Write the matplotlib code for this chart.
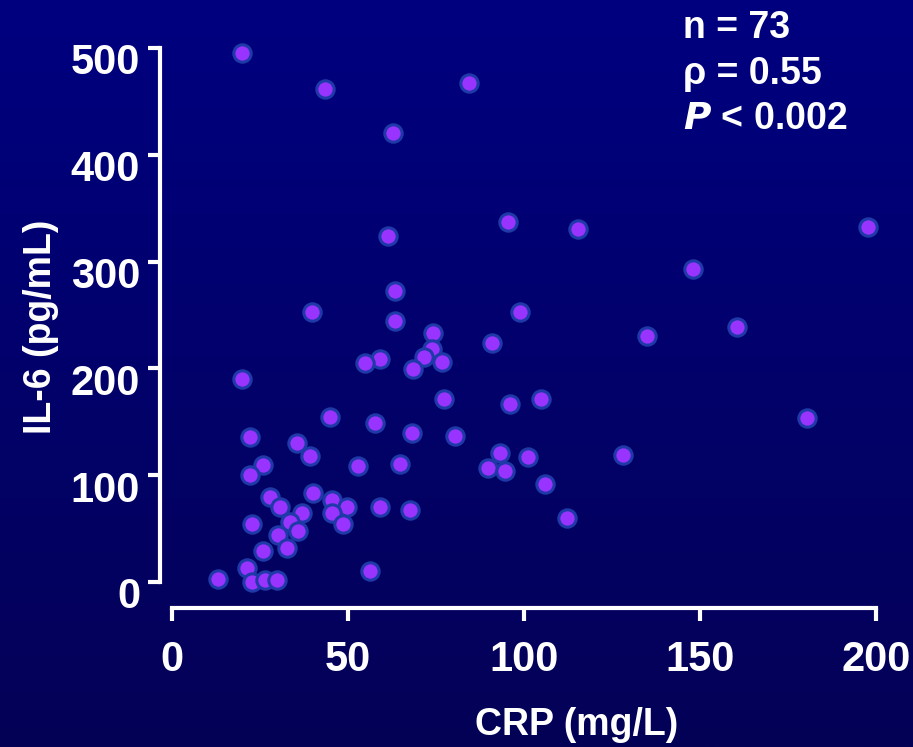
import numpy as np
import matplotlib.pyplot as plt
from matplotlib.transforms import ScaledTranslation

plt.rcParams['font.family'] = ['Liberation Sans', 'DejaVu Sans']

# CRP (mg/L) vs IL-6 (pg/mL)
crp = [19.8, 43.5, 84.5, 62.9, 95.5, 115.4, 197.8, 61.4, 63.4, 39.7,
       98.9, 63.4, 148.1, 160.4, 134.9, 74.2, 73.8, 71.6, 76.7, 59.1,
       54.8, 68.6, 90.8, 19.8, 77.3, 96.0, 104.7, 44.9, 180.3, 57.7,
       22.2, 35.4, 68.1, 80.4, 39.2, 128.2, 93.2, 101.2, 25.9, 52.9,
       64.8, 22.2, 89.9, 94.6, 106.0, 27.8, 40.1, 30.7, 45.4, 36.8,
       49.6, 59.1, 45.4, 67.6, 33.5, 48.7, 22.6, 112.1, 35.9, 30.2,
       32.6, 25.9, 21.2, 56.3, 13.2, 22.6, 26.4, 29.7]
il6 = [495.0, 461.6, 467.5, 420.7, 337.1, 330.5, 332.6, 324.0, 272.8, 253.1,
       252.5, 244.7, 292.8, 239.0, 230.3, 232.9, 217.9, 210.7, 206.3, 208.5,
       204.8, 199.2, 223.5, 189.8, 171.1, 166.7, 171.1, 154.8, 153.3, 148.6,
       136.0, 129.9, 139.2, 136.7, 118.3, 118.9, 120.5, 116.8, 109.6, 108.6,
       110.5, 100.2, 106.5, 104.2, 91.5, 79.3, 83.1, 69.9, 76.8, 64.3,
       69.9, 69.9, 64.3, 67.4, 55.9, 54.3, 54.3, 59.6, 47.5, 43.7,
       32.1, 29.3, 13.4, 10.6, 2.8, 0.0, 1.9, 1.9]

x_ticks = [0, 50, 100, 150, 200]
y_ticks = [0, 100, 200, 300, 400, 500]
stats_lines = ['n = 73', 'ρ = 0.55', '$\\bfit{P}$ < 0.002']

fig = plt.figure(figsize=(9.13, 7.47), dpi=100)

# navy gradient background
bg = fig.add_axes([0, 0, 1, 1], zorder=-1)
top = np.array([0, 0, 128]) / 255
bottom = np.array([4, 2, 86]) / 255
t = np.linspace(0, 1, 256)[:, None]
grad = top + (bottom - top) * t
bg.imshow(grad[:, None, :], aspect='auto', extent=[0, 1, 0, 1])
bg.axis('off')

ax = fig.add_axes([0.1884, 0.2209, 0.7711, 0.7149])
ax.patch.set_alpha(0)
ax.plot(crp, il6, 'o', color='#9933ff', markeredgecolor='#1f3aa8',
        markersize=12.5, markeredgewidth=2.2, clip_on=False)

ax.set_xlim(0, 200)
ax.set_ylim(0, 500)
ax.set_xticks(x_ticks)
ax.set_yticks(y_ticks)

for side in ['top', 'right']:
    ax.spines[side].set_visible(False)
ax.spines['left'].set_position(('outward', 9))
ax.spines['bottom'].set_position(('outward', 19))
ax.spines['left'].set_bounds(0, 500)
ax.spines['bottom'].set_bounds(0, 200)
for side in ['left', 'bottom']:
    ax.spines[side].set_color('white')
    ax.spines[side].set_linewidth(3)

ax.tick_params(axis='both', colors='white', direction='out', length=9,
               width=3, labelsize=30)
ax.tick_params(axis='y', pad=5)
ax.tick_params(axis='x', pad=14)
for lbl in ax.get_xticklabels() + ax.get_yticklabels():
    lbl.set_fontweight('bold')
# y labels sit a little below their ticks in the original
shift = ScaledTranslation(0, -0.11, fig.dpi_scale_trans)
for lbl in ax.get_yticklabels():
    lbl.set_transform(lbl.get_transform() + shift)

ax.set_xlabel('CRP (mg/L)', color='white', fontsize=27, fontweight='bold')
ax.set_ylabel('IL-6 (pg/mL)', color='white', fontsize=27, fontweight='bold')
ax.xaxis.set_label_coords(0.575, -0.234)
ax.yaxis.set_label_coords(-0.161, 0.4774)

for i, line in enumerate(stats_lines):
    fig.text(0.748, 0.9625 - i * 0.061, line, color='white', fontsize=27,
             fontweight='bold', va='center', ha='left')

fig.savefig('out.png', dpi=100)
